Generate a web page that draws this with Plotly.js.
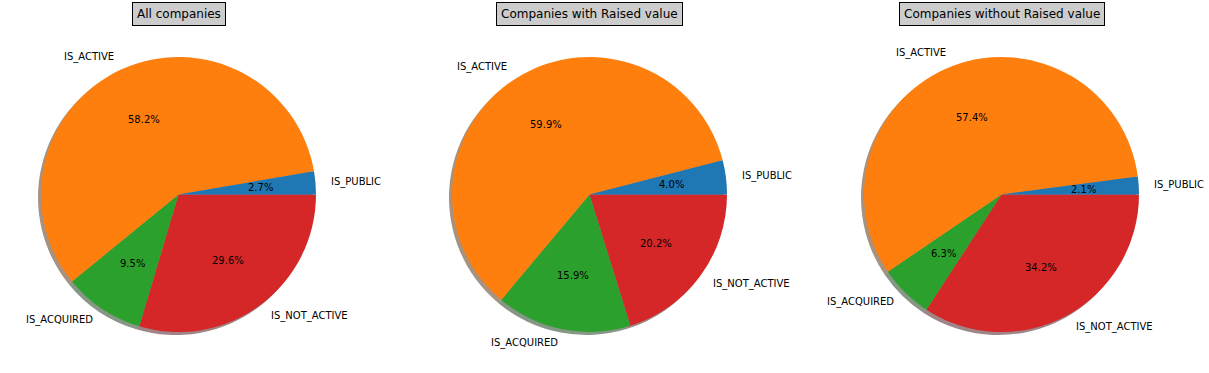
<!DOCTYPE html>
<html>
<head>
<meta charset="utf-8">
<script src="https://cdn.plot.ly/plotly-3.0.1.min.js"></script>
<style>html,body{margin:0;padding:0;background:#fff;}#chart{width:1209px;height:373px;}</style>
</head>
<body>
<div id="chart"></div>
<script>
// ---- data ----
const categories = ["IS_PUBLIC", "IS_ACTIVE", "IS_ACQUIRED", "IS_NOT_ACTIVE"];
const titles = ["All companies", "Companies with Raised value", "Companies without Raised value"];
const allCompanies = [2.7, 58.2, 9.5, 29.6];
const withRaised = [4.0, 59.9, 15.9, 20.2];
const withoutRaised = [2.1, 57.4, 6.3, 34.2];
const colors = ["#1f77b4", "#ff7f0e", "#2ca02c", "#d62728"];

// ---- layout geometry ----
const W = 1209, H = 373;
const R = 137.5;
const centersX = [178.5, 589.5, 1001.5];
const centerY = 194.5;
const shadowOff = 3;
const series = [allCompanies, withRaised, withoutRaised];

function shadowColor(hex) {
  const r = parseInt(hex.slice(1,3),16), g = parseInt(hex.slice(3,5),16), b = parseInt(hex.slice(5,7),16);
  return `rgba(${Math.round(r*0.3)},${Math.round(g*0.3)},${Math.round(b*0.3)},0.5)`;
}
function domainFor(cx, cy) {
  return {x: [(cx - R) / W, (cx + R) / W], y: [(H - cy - R) / H, (H - cy + R) / H]};
}
const rev = a => a.slice().reverse();

const traces = [];
const annotations = [];
const font = {family: "DejaVu Sans", size: 10, color: "#000"};

series.forEach((vals, i) => {
  const cx = centersX[i];
  // Slices run counterclockwise from 3 o'clock (matplotlib style):
  // drawn clockwise from 3 o'clock in reversed order.
  traces.push({
    type: "pie", values: rev(vals), labels: rev(categories), sort: false,
    direction: "clockwise", rotation: 90,
    marker: {colors: rev(colors).map(shadowColor), line: {width: 0}},
    textinfo: "none", hoverinfo: "skip", showlegend: false,
    domain: domainFor(cx - shadowOff, centerY + shadowOff)
  });
  traces.push({
    type: "pie", values: rev(vals), labels: rev(categories), sort: false,
    direction: "clockwise", rotation: 90,
    marker: {colors: rev(colors), line: {width: 0}},
    textinfo: "none", showlegend: false,
    domain: domainFor(cx, centerY)
  });
  // labels and percentages (matplotlib-style placement)
  const total = vals.reduce((a, b) => a + b, 0);
  let start = 0;
  vals.forEach((v, k) => {
    const frac = v / total;
    const mid = (start + frac / 2) * 2 * Math.PI;
    start += frac;
    const cos = Math.cos(mid), sin = Math.sin(mid);
    const lx = cx + 1.1 * R * cos, ly = centerY - 1.1 * R * sin;
    annotations.push({
      xref: "paper", yref: "paper", x: lx / W, y: (H - ly) / H,
      text: categories[k], showarrow: false, font: font,
      xanchor: cos > 0 ? "left" : "right", yanchor: "middle"
    });
    const px = cx + 0.6 * R * cos, py = centerY - 0.6 * R * sin;
    annotations.push({
      xref: "paper", yref: "paper", x: px / W, y: (H - py) / H,
      text: (100 * frac).toFixed(1) + "%", showarrow: false, font: font,
      xanchor: "center", yanchor: "middle"
    });
  });
  // title
  annotations.push({
    xref: "paper", yref: "paper", x: cx / W, y: (H - 13.5) / H,
    text: titles[i], showarrow: false,
    font: {family: "DejaVu Sans", size: 12, color: "#000"},
    xanchor: "center", yanchor: "middle",
    bgcolor: "#cccccc", bordercolor: "#000", borderwidth: 1, borderpad: 4
  });
});

const layout = {
  width: W, height: H,
  margin: {l: 0, r: 0, t: 0, b: 0},
  paper_bgcolor: "#fff", plot_bgcolor: "#fff",
  showlegend: false,
  annotations: annotations
};
Plotly.newPlot("chart", traces, layout, {displayModeBar: false, staticPlot: true});
</script>
</body>
</html>
